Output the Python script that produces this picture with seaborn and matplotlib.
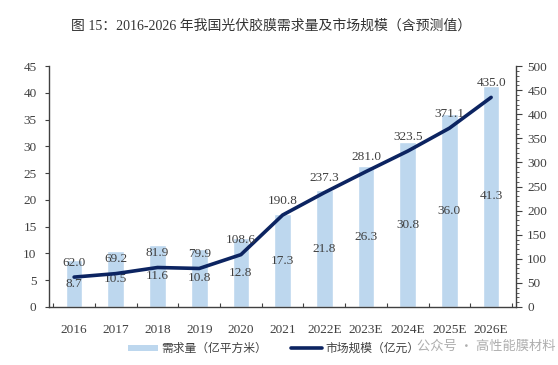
import numpy as np
import pandas as pd
import matplotlib
matplotlib.use("Agg")
import matplotlib.pyplot as plt
from matplotlib.ticker import MultipleLocator, FixedLocator
from matplotlib.lines import Line2D
from matplotlib.patches import Patch
import seaborn as sns

# Data
years = ['2016', '2017', '2018', '2019', '2020', '2021', '2022E', '2023E', '2024E', '2025E', '2026E']
demand = [8.7, 10.5, 11.6, 10.8, 12.8, 17.3, 21.8, 26.3, 30.8, 36.0, 41.3]          # 亿平方米
market = [62.0, 69.2, 81.9, 79.9, 108.6, 190.8, 237.3, 281.0, 323.5, 371.1, 435.0]  # 亿元

df = pd.DataFrame({'year': years, 'demand': demand, 'market': market})
df['pos'] = np.arange(len(years))

sns.set_theme(style="white")
plt.rcParams['font.family'] = ['Liberation Serif', 'Noto Sans CJK SC', 'DejaVu Sans']
cjk = ['Noto Sans CJK SC', 'DejaVu Sans']
txt = '#404040'
bar_c = '#BDD7EE'
line_c = '#0C2461'

fig = plt.figure(figsize=(5.58, 3.65), dpi=100)
ax = fig.add_axes([0.088, 0.159, 0.837, 0.66])

sns.barplot(data=df, x='year', y='demand', color=bar_c, width=0.4, saturation=1, ax=ax)
ax.bar_label(ax.containers[0], fmt='%.1f', label_type='center', fontsize=9.5, color=txt)

ax2 = ax.twinx()
sns.lineplot(data=df, x='pos', y='market', color=line_c, linewidth=2.6, ax=ax2)
for x, v in zip(df['pos'], market):
    ax2.annotate(f'{v:.1f}', (x, v), xytext=(0, 6), textcoords='offset points',
                 ha='center', va='bottom', fontsize=9.5, color=txt)

ax.set_ylim(0, 45)
ax.yaxis.set_major_locator(MultipleLocator(5))
ax2.set_ylim(0, 500)
ax2.yaxis.set_major_locator(MultipleLocator(50))
ax2.yaxis.set_minor_locator(MultipleLocator(10))
ax.set_xlim(-0.6, len(years) - 0.4)

ax.set_xlabel('')
ax.set_ylabel('')
ax2.set_xlabel('')
ax2.set_ylabel('')

for a in (ax, ax2):
    a.spines['top'].set_visible(False)
    for s in ('left', 'right', 'bottom'):
        a.spines[s].set_color('#404040')
        a.spines[s].set_linewidth(1.0)
ax.spines['right'].set_visible(False)
ax2.spines['left'].set_visible(False)
ax2.spines['bottom'].set_visible(False)

ax.tick_params(axis='y', which='major', left=True, length=3, width=0.8, color='#404040',
               labelsize=9.5, labelcolor=txt, pad=6)
ax.tick_params(axis='x', which='major', bottom=False, labelsize=9.5, labelcolor=txt, pad=6)
ax.xaxis.set_minor_locator(FixedLocator(np.arange(len(years) + 1) - 0.5))
ax.tick_params(axis='x', which='minor', bottom=True, direction='in', length=3, width=0.8, color='#404040')
ax2.tick_params(axis='y', which='major', right=True, length=4, width=0.8, color='#404040',
                labelsize=9.5, labelcolor=txt, pad=4)
ax2.tick_params(axis='y', which='minor', right=True, length=2, width=0.6, color='#404040')
ax.grid(False)
ax2.grid(False)

fig.text(0.485, 0.928, '图 15：2016-2026 年我国光伏胶膜需求量及市场规模（含预测值）',
         ha='center', va='center', fontsize=10, color='#333333',
         family=['Liberation Serif', 'Noto Sans CJK SC'])

handles = [Patch(facecolor=bar_c, edgecolor='none', label='需求量（亿平方米）'),
           Line2D([0], [0], color=line_c, linewidth=2.6, label='市场规模（亿元）')]
fig.legend(handles=handles, loc='center', bbox_to_anchor=(0.49, 0.045), ncol=2, frameon=False,
           prop={'family': cjk, 'size': 8.5}, labelcolor=txt, handlelength=2.6, handleheight=0.5,
           columnspacing=2.0, handletextpad=0.3)

fig.text(0.995, 0.052, '公众号 · 高性能膜材料', ha='right', va='center', fontsize=9.5,
         color='#9a9a9a', alpha=0.8, family=cjk)

fig.savefig('out.png', dpi=100)
